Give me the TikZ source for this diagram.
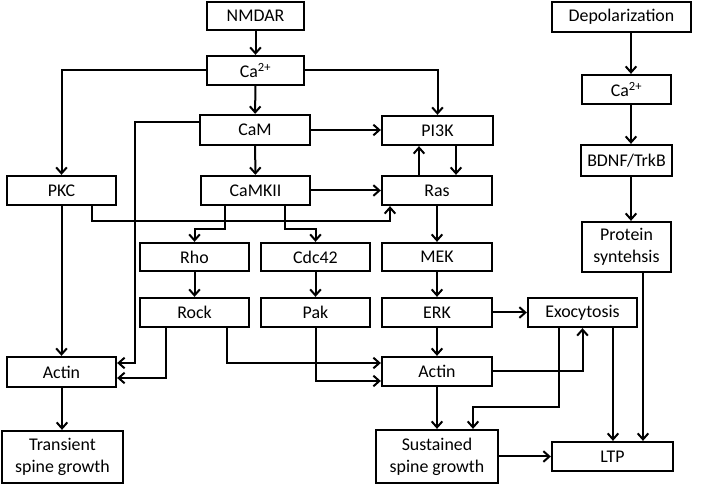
\documentclass[tikz,border=0pt]{standalone}
\usepackage{fontspec}
\setmainfont{Carlito}
\usetikzlibrary{arrows.meta}
\begin{document}
\begin{tikzpicture}[x=0.75pt,y=-0.75pt,
  box/.style={draw,line width=1.7pt,inner sep=0pt,align=center,
    font=\fontsize{13.4}{16.3}\selectfont},
  arr/.style={line width=1.5pt,-{Straight Barb[length=4.5pt,width=8pt,line width=1.5pt]}}]
\useasboundingbox (0,0) rectangle (711,484);
\newcommand\bx[6]{\node[box,minimum width={#4*0.75pt},minimum height={#5*0.75pt}] (#1) at (#2,#3) {#6};}
% nodes
\bx{NMDAR}{255.5}{16}{97}{28}{NMDAR}
\bx{CaA}{255.5}{70.5}{97}{29}{Ca\textsuperscript{2+}}
\bx{CaM}{255}{130}{110}{30}{CaM}
\bx{PI3K}{437.5}{130.5}{111}{29}{PI3K}
\bx{Depol}{621.5}{17}{139}{30}{Depolarization}
\bx{CaB}{626.5}{89.5}{89}{29}{Ca\textsuperscript{2+}}
\bx{BDNF}{626.5}{160.5}{91}{31}{BDNF/TrkB}
\bx{PKC}{61.5}{190.5}{109}{29}{PKC}
\bx{CaMKII}{255.5}{190.5}{109}{29}{CaMKII}
\bx{Ras}{437}{190.5}{110}{29}{Ras}
\bx{Rho}{194.5}{257}{109}{28}{Rho}
\bx{Cdc}{315.5}{257}{109}{28}{Cdc42}
\bx{MEK}{437}{257}{110}{28}{MEK}
\bx{Prot}{626.5}{247}{89}{50}{Protein\\syntehsis}
\bx{Rock}{194.5}{312.5}{109}{29}{Rock}
\bx{Pak}{315.5}{312.5}{109}{29}{Pak}
\bx{ERK}{437}{312.5}{110}{29}{ERK}
\bx{Exo}{582.5}{312.5}{109}{29}{Exocytosis}
\bx{ActL}{61.5}{372}{109}{30}{Actin}
\bx{ActM}{437}{371.5}{110}{29}{Actin}
\bx{Trans}{62.5}{457}{121}{52}{Transient\\spine growth}
\bx{Sust}{437}{456.5}{122}{53}{Sustained\\spine growth}
\bx{LTP}{612.5}{456.5}{121}{29}{LTP}
% helper coordinates
\coordinate (c6) at (135,122);
\coordinate (c6b) at (135,363);
\coordinate (x419) at (419,0);
\coordinate (x456) at (456,0);
\coordinate (c11a) at (92,221);
\coordinate (c11b) at (390,221);
\coordinate (c13) at (225,229);
\coordinate (c14) at (285,229);
\coordinate (c17) at (166,378);
\coordinate (c18) at (227,363);
\coordinate (c19) at (316,381);
\coordinate (c23a) at (559,407);
\coordinate (c23b) at (473,407);
\coordinate (x613) at (613,0);
\coordinate (x643) at (643,0);
\coordinate (x631) at (631,0);
\coordinate (x62) at (62,0);
% connectors
\draw[arr] (NMDAR) -- (CaA);
\draw[arr] (CaA) -- (CaM);
\draw[arr] (CaA.west) -| (PKC.north);
\draw[arr] (CaA.east) -| (PI3K.north);
\draw[arr] (CaM) -- (CaMKII);
\draw[arr] (c6 -| CaM.west) -- (c6) -- (c6b) -- (c6b -| ActL.east);
\draw[arr] (CaM.east) -- (PI3K.west |- CaM.east);
\draw[arr] (x419 |- Ras.north) -- (x419 |- PI3K.south);
\draw[arr] (x456 |- PI3K.south) -- (x456 |- Ras.north);
\draw[arr] (CaMKII.east) -- (Ras.west |- CaMKII.east);
\draw[arr] (c11a |- PKC.south) -- (c11a) -- (c11b) -- (c11b |- Ras.south);
\draw[arr] (PKC) -- (ActL);
\draw[arr] (x62 |- ActL.south) -- (x62 |- Trans.north);
\draw[arr] (c13 |- CaMKII.south) -- (c13) -| (Rho.north);
\draw[arr] (c14 |- CaMKII.south) -- (c14) -| (Cdc.north);
\draw[arr] (Rho) -- (Rock);
\draw[arr] (Cdc) -- (Pak);
\draw[arr] (c17 |- Rock.south) -- (c17) -- (c17 -| ActL.east);
\draw[arr] (c18 |- Rock.south) -- (c18) -- (c18 -| ActM.west);
\draw[arr] (c19 |- Pak.south) -- (c19) -- (c19 -| ActM.west);
\draw[arr] (Ras) -- (MEK);
\draw[arr] (MEK) -- (ERK);
\draw[arr] (ERK) -- (ActM);
\draw[arr] (ActM) -- (Sust);
\draw[arr] (ERK.east) -- (Exo.west |- ERK.east);
\draw[arr] (ActM.east) -| (Exo.south);
\draw[arr] (c23a |- Exo.south) -- (c23a) -- (c23b) -- (c23b |- Sust.north);
\draw[arr] (x613 |- Exo.south) -- (x613 |- LTP.north);
\draw[arr] (x643 |- Prot.south) -- (x643 |- LTP.north);
\draw[arr] (Sust.east) -- (LTP.west |- Sust.east);
\draw[arr] (x631 |- Depol.south) -- (x631 |- CaB.north);
\draw[arr] (x631 |- CaB.south) -- (x631 |- BDNF.north);
\draw[arr] (x631 |- BDNF.south) -- (x631 |- Prot.north);
\end{tikzpicture}
\end{document}
